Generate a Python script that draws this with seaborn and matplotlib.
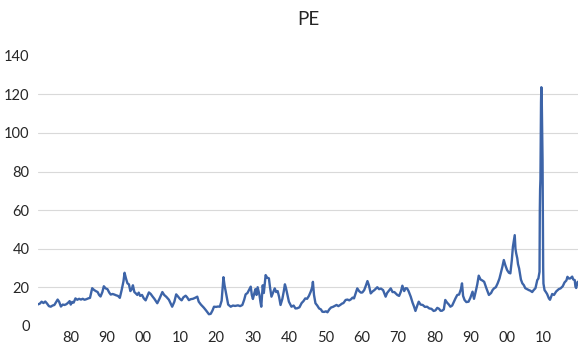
import matplotlib
matplotlib.use("Agg")
import matplotlib.pyplot as plt
import matplotlib.ticker as mticker
import numpy as np
import pandas as pd
import seaborn as sns

# S&P 500 price / trailing earnings, 1871-2019 (decimal years)
years = [
    1871.0, 1871.5, 1872.0, 1872.5, 1873.0, 1873.5, 1874.0, 1874.5, 1875.0, 1875.5,
    1876.0, 1876.4, 1876.8, 1877.3, 1877.8, 1878.3, 1878.8, 1879.3, 1879.7, 1880.0,
    1880.4, 1880.8, 1881.3, 1881.8, 1882.3, 1882.8, 1883.3, 1883.8, 1884.3, 1884.8,
    1885.3, 1885.9, 1886.4, 1886.9, 1887.4, 1887.8, 1888.2, 1888.7, 1889.1, 1889.6,
    1890.1, 1890.6, 1891.0, 1891.5, 1892.0, 1892.5, 1893.0, 1893.5, 1894.0, 1894.5,
    1894.8, 1895.2, 1895.6, 1896.0, 1896.4, 1896.8, 1897.1, 1897.5, 1897.9, 1898.3,
    1898.7, 1899.1, 1899.6, 1900.1, 1900.6, 1901.0, 1901.5, 1902.0, 1902.5, 1903.0,
    1903.8, 1904.4, 1905.2, 1905.7, 1906.3, 1907.0, 1907.9, 1908.5, 1909.0, 1909.5,
    1910.0, 1910.5, 1911.0, 1911.6, 1912.0, 1912.5, 1913.0, 1913.6, 1914.2, 1914.8,
    1915.2, 1915.8, 1916.6, 1917.2, 1918.0, 1918.5, 1919.0, 1919.4, 1920.0, 1920.5,
    1921.0, 1921.5, 1922.0, 1922.3, 1922.8, 1923.3, 1924.0, 1924.6, 1925.2, 1926.0,
    1926.6, 1927.2, 1927.7, 1928.1, 1928.6, 1929.0, 1929.5, 1929.8, 1930.1, 1930.5,
    1930.8, 1931.1, 1931.4, 1931.9, 1932.2, 1932.4, 1932.8, 1933.1, 1933.6, 1934.0,
    1934.5, 1934.8, 1935.2, 1935.6, 1936.1, 1936.5, 1936.9, 1937.3, 1937.7, 1938.2,
    1938.6, 1938.9, 1939.2, 1939.5, 1940.0, 1940.7, 1941.3, 1941.8, 1942.3, 1942.9,
    1943.5, 1944.0, 1944.5, 1945.0, 1945.5, 1946.0, 1946.4, 1946.6, 1946.9, 1947.3,
    1947.8, 1948.3, 1948.8, 1949.2, 1949.7, 1950.2, 1950.6, 1951.1, 1951.6, 1952.1,
    1952.6, 1953.1, 1953.6, 1954.1, 1954.6, 1955.0, 1955.6, 1956.1, 1956.6, 1957.1,
    1957.5, 1957.9, 1958.4, 1958.8, 1959.3, 1959.8, 1960.2, 1960.7, 1961.2, 1961.6,
    1962.0, 1962.5, 1963.0, 1963.5, 1964.3, 1964.8, 1965.3, 1965.9, 1966.6, 1967.0,
    1967.5, 1968.0, 1968.5, 1969.0, 1969.8, 1970.3, 1970.8, 1971.2, 1971.7, 1972.1,
    1972.5, 1972.9, 1973.5, 1974.0, 1974.4, 1974.8, 1975.3, 1975.7, 1976.2, 1976.8,
    1977.4, 1978.0, 1978.6, 1979.2, 1979.8, 1980.3, 1980.8, 1981.3, 1981.7, 1982.1,
    1982.6, 1983.0, 1983.5, 1984.0, 1984.4, 1984.9, 1985.3, 1985.8, 1986.3, 1986.8,
    1987.3, 1987.6, 1987.9, 1988.3, 1988.8, 1989.4, 1989.9, 1990.5, 1990.9, 1991.4,
    1991.8, 1992.2, 1992.7, 1993.2, 1993.7, 1994.3, 1995.0, 1995.6, 1996.0, 1996.4,
    1996.9, 1997.4, 1997.9, 1998.3, 1998.7, 1999.1, 1999.5, 2000.0, 2000.5, 2000.9,
    2001.3, 2001.6, 2001.9, 2002.1, 2002.3, 2002.5, 2002.8, 2003.0, 2003.3, 2003.8,
    2004.2, 2004.6, 2005.0, 2005.5, 2006.0, 2006.4, 2006.9, 2007.3, 2007.8, 2008.3,
    2008.6, 2008.92, 2009.0, 2009.08, 2009.17, 2009.25, 2009.33, 2009.42, 2009.5, 2009.58,
    2009.67, 2009.75, 2009.83, 2009.92, 2010.0, 2010.3, 2010.6, 2011.0, 2011.5, 2011.8,
    2012.4, 2012.9, 2013.5, 2014.2, 2014.7, 2015.3, 2015.8, 2016.3, 2016.6, 2017.0,
    2017.4, 2017.9, 2018.2, 2018.6, 2018.8, 2019.0, 2019.4,
]

pe = [
    11.1, 11.5, 12.5, 11.8, 12.6, 11.5, 10.2, 9.9, 10.5, 10.8,
    12.4, 13.6, 12.5, 10.0, 11.0, 10.8, 11.2, 12.0, 12.8, 11.0,
    12.4, 12.0, 14.2, 13.5, 14.0, 13.6, 14.0, 13.5, 13.8, 14.2,
    14.5, 19.5, 18.6, 18.0, 17.5, 16.0, 15.2, 17.5, 20.5, 19.4,
    19.0, 17.2, 16.2, 16.5, 16.2, 15.8, 15.5, 14.5, 18.5, 23.0,
    27.5, 24.5, 22.0, 21.5, 18.0, 19.0, 21.0, 17.5, 16.8, 16.0,
    17.2, 15.5, 16.0, 14.2, 13.2, 15.0, 17.3, 16.5, 15.2, 14.0,
    11.7, 14.0, 17.5, 16.0, 15.0, 13.5, 9.9, 12.5, 16.3, 15.2,
    14.0, 13.2, 14.8, 15.6, 14.8, 13.3, 13.8, 14.0, 14.5, 15.1,
    12.5, 11.0, 9.4, 8.0, 6.0, 6.2, 8.0, 9.9, 9.8, 10.0,
    9.9, 13.0, 25.2, 21.0, 16.0, 11.0, 9.9, 10.5, 10.3, 10.6,
    10.2, 10.8, 13.5, 16.3, 17.0, 18.5, 20.3, 16.0, 13.9, 17.0,
    19.0, 16.0, 20.0, 16.0, 12.0, 9.9, 21.0, 17.0, 26.3, 25.0,
    24.6, 20.0, 15.1, 17.0, 19.4, 17.5, 18.0, 15.0, 10.8, 14.0,
    18.0, 21.5, 19.5, 16.8, 12.5, 9.9, 10.5, 9.0, 9.1, 9.6,
    11.8, 12.8, 14.2, 14.0, 15.5, 17.7, 20.0, 22.8, 16.0, 11.7,
    10.5, 9.0, 8.5, 7.3, 7.2, 7.5, 7.0, 8.5, 9.5, 9.8,
    10.3, 10.8, 10.2, 10.8, 11.5, 11.8, 13.4, 13.6, 13.2, 13.8,
    14.6, 14.2, 17.0, 19.4, 18.0, 17.2, 17.3, 18.5, 21.0, 23.2,
    21.0, 16.8, 17.8, 18.5, 20.0, 19.0, 19.3, 18.5, 15.1, 17.0,
    18.2, 19.4, 17.5, 17.5, 16.0, 15.5, 17.8, 20.8, 18.0, 19.5,
    19.4, 18.0, 15.1, 12.0, 10.0, 7.7, 10.5, 12.5, 11.0, 10.8,
    9.8, 9.9, 9.0, 8.8, 7.7, 8.0, 9.3, 8.8, 7.8, 7.8,
    8.5, 13.4, 12.0, 11.0, 9.9, 10.5, 12.2, 14.2, 16.0, 16.2,
    19.0, 22.0, 15.5, 13.4, 12.3, 12.5, 14.5, 17.7, 14.0, 18.0,
    21.5, 26.0, 24.0, 23.5, 22.8, 19.5, 16.0, 17.0, 18.5, 19.4,
    20.0, 22.0, 24.5, 27.5, 30.6, 34.1, 31.5, 28.9, 27.5, 27.2,
    34.0, 41.0, 44.5, 47.0, 40.0, 37.6, 35.0, 32.0, 29.8, 24.0,
    22.0, 21.1, 19.5, 19.0, 18.5, 18.2, 17.5, 18.5, 19.5, 23.7,
    24.5, 28.0, 60.0, 70.9, 76.0, 100.0, 116.0, 123.7, 122.0, 110.0,
    95.0, 86.0, 60.0, 30.0, 21.9, 18.5, 17.7, 16.5, 14.2, 13.5,
    16.5, 16.0, 17.8, 19.0, 19.4, 20.5, 22.5, 23.5, 25.4, 24.5,
    24.6, 25.5, 24.0, 23.7, 20.3, 19.6, 22.8,
]

label_years = list(range(1880, 2011, 10))
grid_years = list(range(1880, 2001, 20))
y_ticks = list(range(0, 141, 20))

df = pd.DataFrame({"year": years, "pe": pe})

sns.set_theme(style="white")
plt.rcParams["font.family"] = ["Lato", "DejaVu Sans"]

text_color = "#262626"
grid_color = "#D9D9D9"

fig = plt.figure(figsize=(5.82, 3.5), dpi=100)
ax = fig.add_axes([38 / 582, 24.2 / 350, 540 / 582, 270 / 350])

sns.lineplot(data=df, x="year", y="pe", ax=ax, color="#3D64A8",
             linewidth=1.7, estimator=None, sort=False)

ax.set_xlim(1871.0, 2019.5)
ax.set_ylim(0, 140)

ax.xaxis.set_major_locator(mticker.FixedLocator(label_years))
ax.xaxis.set_major_formatter(mticker.FixedFormatter([f"{y % 100:02d}" for y in label_years]))
ax.xaxis.set_minor_locator(mticker.FixedLocator(grid_years))
ax.yaxis.set_major_locator(mticker.FixedLocator(y_ticks))

ax.grid(False)
ax.grid(axis="x", which="minor", color=grid_color, linewidth=0.8)
ax.grid(axis="y", which="major", color=grid_color, linewidth=0.8)
ygl = ax.yaxis.get_gridlines()
ygl[0].set_visible(False)
ygl[-1].set_visible(False)

ax.tick_params(axis="x", which="both", length=0, pad=4, labelsize=10.5, labelcolor=text_color)
ax.tick_params(axis="y", length=0, pad=6, labelsize=10.5, labelcolor=text_color)

for spine in ax.spines.values():
    spine.set_visible(False)

ax.set_xlabel("")
ax.set_ylabel("")
ax.set_title("PE", fontsize=13.5, color=text_color, pad=22)

fig.savefig("out.png", dpi=100)
